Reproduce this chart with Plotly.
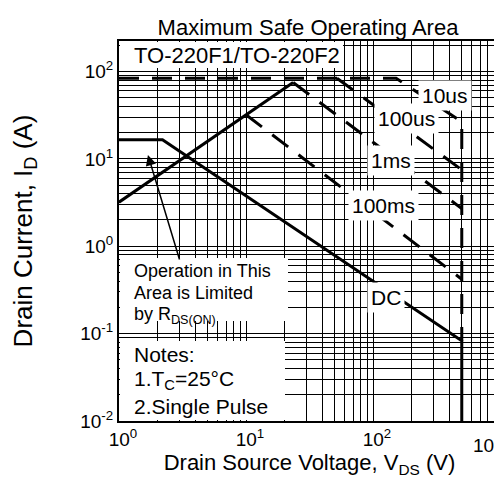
import math
import plotly.graph_objects as go

# ---------------- data (V_DS in V, I_D in A) ----------------
rds_v = [1, 23.5]
rds_i = [3.2, 75]
us10_v = [1, 152, 500, 500]
us10_i = [84, 84, 26.5, 0.083]
us100_v = [52, 500]
us100_i = [84, 7.5]
ms1_v = [23.5, 500]
ms1_i = [75, 2.7]
ms100_v = [10, 500]
ms100_i = [32, 0.42]
dc_v = [1, 2.2, 500, 500]
dc_i = [16.6, 16.6, 0.083, 0.01]

label_text = ["10us", "100us", "1ms", "100ms", "DC"]
label_v = [369, 182, 139, 120, 126]
label_i = [52.6, 29.4, 9.7, 2.9, 0.257]

x_tickvals = [1, 10, 100, 1000]
x_ticktext = ["10<sup>0</sup>", "10<sup>1</sup>", "10<sup>2</sup>", ""]
x_last_label = "10<sup>3</sup>"
y_tickvals = [0.01, 0.1, 1, 10, 100]
y_ticktext = ["10<sup>-2</sup>", "10<sup>-1</sup>", "10<sup>0</sup>", "10<sup>1</sup>", "10<sup>2</sup>"]

op_lines = ["Operation in This", "Area is Limited", "by R<sub>DS(ON)</sub>"]
note_lines = ["Notes:", "1.T<sub>C</sub>=25°C", "2.Single Pulse"]

FONT = "Liberation Sans, Arial, sans-serif"

# plot-area geometry in pixels (for placing boxes)
L, R, T, B = 111, 492, 33, 413
W, H = R - L, B - T
px = lambda x: (x - L) / W
py = lambda y: (B - y) / H

minor_x = [m * 10 ** d for d in range(0, 3) for m in range(2, 10)]
minor_y = [m * 10 ** d for d in range(-2, 3) for m in range(2, 10) if m * 10 ** d < 230]

fig = go.Figure()
solid = dict(color="black", width=3)
dashed = dict(color="black", width=3, dash="20px,13px")
fig.add_trace(go.Scatter(x=rds_v, y=rds_i, mode="lines", line=solid))
fig.add_trace(go.Scatter(x=us10_v, y=us10_i, mode="lines", line=dashed))
fig.add_trace(go.Scatter(x=us100_v, y=us100_i, mode="lines", line=dashed))
fig.add_trace(go.Scatter(x=ms1_v, y=ms1_i, mode="lines", line=dashed))
fig.add_trace(go.Scatter(x=ms100_v, y=ms100_i, mode="lines", line=dashed))
fig.add_trace(go.Scatter(x=dc_v, y=dc_i, mode="lines", line=solid))

shapes = [
    dict(type="rect", xref="paper", yref="paper", layer="above",
         x0=px(112), x1=px(335), y0=py(60), y1=py(34),
         fillcolor="white", line=dict(width=0)),
    dict(type="rect", xref="paper", yref="paper", layer="above",
         x0=px(112), x1=px(280), y0=py(313), y1=py(250),
         fillcolor="white", line=dict(width=0)),
    dict(type="rect", xref="paper", yref="paper", layer="above",
         x0=px(112), x1=px(277), y0=py(412), y1=py(333),
         fillcolor="white", line=dict(width=0)),
]

annotations = []
for t, v, i in zip(label_text, label_v, label_i):
    annotations.append(dict(x=math.log10(v), y=math.log10(i), xref="x", yref="y",
                            text=t, showarrow=False, bgcolor="white", borderpad=3,
                            font=dict(size=21, color="black", family=FONT)))

annotations.append(dict(xref="paper", yref="paper", x=px(124), y=py(47),
                        xanchor="left", yanchor="middle",
                        text="TO-220F1/TO-220F2", showarrow=False,
                        font=dict(size=22, color="black", family=FONT)))
for t, yy in zip(op_lines, [263, 285, 307]):
    annotations.append(dict(xref="paper", yref="paper", x=px(124), y=py(yy),
                            xanchor="left", yanchor="middle", text=t, showarrow=False,
                            font=dict(size=18, color="black", family=FONT)))
for t, yy in zip(note_lines, [346, 372, 398]):
    annotations.append(dict(xref="paper", yref="paper", x=px(124), y=py(yy),
                            xanchor="left", yanchor="middle", text=t, showarrow=False,
                            font=dict(size=21, color="black", family=FONT)))
annotations.append(dict(x=math.log10(1.69), y=math.log10(11.1), xref="x", yref="y",
                        ax=math.log10(3.02), ay=math.log10(0.68), axref="x", ayref="y",
                        text="", showarrow=True, arrowhead=2, arrowsize=1.4,
                        arrowwidth=1.5, arrowcolor="black"))
# last x tick label, kept inside the picture's right edge
annotations.append(dict(xref="paper", yref="paper", x=px(495), y=py(436),
                        xanchor="right", yanchor="middle", text=x_last_label,
                        showarrow=False, borderpad=0,
                        font=dict(size=19, color="black", family=FONT)))

axis_common = dict(type="log", showline=True, mirror=True, linecolor="black", linewidth=2,
                   showgrid=True, gridcolor="black", gridwidth=1, ticks="", zeroline=False,
                   automargin=False,
                   tickfont=dict(size=19, color="black", family=FONT))

fig.update_layout(
    width=502, height=483,
    margin=dict(l=L, r=502 - R, t=T, b=483 - B),
    paper_bgcolor="white", plot_bgcolor="white",
    showlegend=False,
    title=dict(text="Maximum Safe Operating Area", x=300 / 502, xanchor="center",
               y=1 - 19 / 483, yanchor="middle", yref="container",
               font=dict(size=22, color="black", family=FONT)),
    xaxis=dict(axis_common, range=[0, 3], tickmode="array", tickvals=x_tickvals,
               ticktext=x_ticktext, ticklabelshift=4,
               minor=dict(tickvals=minor_x, showgrid=True, gridcolor="black", gridwidth=1),
               title=dict(text="Drain Source Voltage, V<sub>DS</sub> (V)", standoff=6,
                          font=dict(size=22, color="black", family=FONT))),
    yaxis=dict(axis_common, range=[-2, 2.35], tickmode="array", tickvals=y_tickvals,
               ticktext=y_ticktext,
               minor=dict(tickvals=minor_y, showgrid=True, gridcolor="black", gridwidth=1),
               title=dict(text="Drain Current, I<sub>D</sub> (A)", standoff=43,
                          font=dict(size=26, color="black", family=FONT))),
    shapes=shapes,
    annotations=annotations,
)

fig.write_html("out.html")
